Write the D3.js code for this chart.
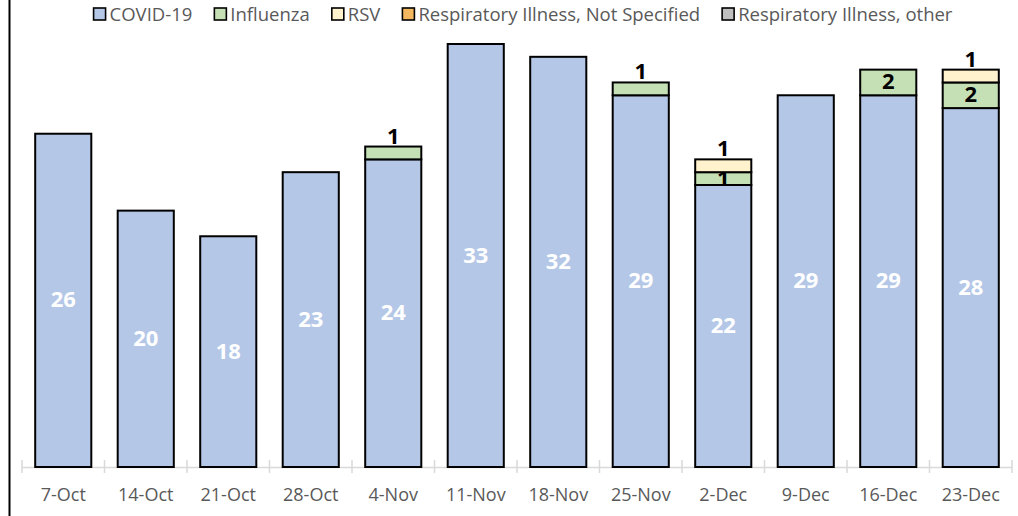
<!DOCTYPE html>
<html>
<head>
<meta charset="utf-8">
<script src="https://cdn.jsdelivr.net/npm/d3@7"></script>
<style>
  body { margin: 0; background: #fff; }
  text { font-family: "Open Sans", "Noto Sans", sans-serif; }
</style>
</head>
<body>
<div id="chart"></div>
<script>
// datos del grafico
const weeks = ["7-Oct", "14-Oct", "21-Oct", "28-Oct", "4-Nov", "11-Nov", "18-Nov", "25-Nov", "2-Dec", "9-Dec", "16-Dec", "23-Dec"];
const covid = [26, 20, 18, 23, 24, 33, 32, 29, 22, 29, 29, 28];
const influenza = [0, 0, 0, 0, 1, 0, 0, 1, 1, 0, 2, 2];
const rsv = [0, 0, 0, 0, 0, 0, 0, 0, 1, 0, 0, 1];
const notSpecified = [0, 0, 0, 0, 0, 0, 0, 0, 0, 0, 0, 0];
const other = [0, 0, 0, 0, 0, 0, 0, 0, 0, 0, 0, 0];

const seriesNames = ["COVID-19", "Influenza", "RSV", "Respiratory Illness, Not Specified", "Respiratory Illness, other"];
const seriesColors = ["#B4C7E7", "#C5E0B4", "#FFF2CC", "#F4B860", "#BFBFBF"];

const width = 1018, height = 516;
const baseY = 467;

const rows = weeks.map((w, i) => ({
  week: w,
  "COVID-19": covid[i],
  "Influenza": influenza[i],
  "RSV": rsv[i],
  "Respiratory Illness, Not Specified": notSpecified[i],
  "Respiratory Illness, other": other[i]
}));

const stacked = d3.stack().keys(seriesNames)(rows);

const x = d3.scaleBand().domain(weeks).range([22, 1012]).paddingInner(0.32).paddingOuter(0.16);
const y = d3.scaleLinear().domain([0, 33]).range([baseY, 44]);

const svg = d3.select("#chart").append("svg")
  .attr("width", width)
  .attr("height", height);

// linea vertical izquierda
svg.append("line")
  .attr("x1", 9.5).attr("x2", 9.5)
  .attr("y1", 0).attr("y2", height)
  .attr("stroke", "#000").attr("stroke-width", 2);

// eje x
svg.append("line")
  .attr("x1", 22).attr("x2", 1012)
  .attr("y1", baseY + 0.5).attr("y2", baseY + 0.5)
  .attr("stroke", "#d9d9d9").attr("stroke-width", 1.5);

const bounds = d3.range(weeks.length + 1).map(i => 22 + i * (990 / weeks.length));
svg.append("g").selectAll("line")
  .data(bounds)
  .enter().append("line")
  .attr("x1", d => d).attr("x2", d => d)
  .attr("y1", baseY - 7).attr("y2", baseY + 6)
  .attr("stroke", "#d9d9d9").attr("stroke-width", 1.5);

svg.append("g").selectAll("text")
  .data(weeks)
  .enter().append("text")
  .attr("x", d => x(d) + x.bandwidth() / 2)
  .attr("y", 501)
  .attr("text-anchor", "middle")
  .attr("font-size", 18)
  .attr("fill", "#595959")
  .text(d => d);

// barras apiladas, cada serie con sus etiquetas
stacked.forEach(function(layer, si) {
  const g = svg.append("g");
  g.selectAll("rect")
    .data(layer.filter(d => d[1] - d[0] > 0))
    .enter().append("rect")
    .attr("x", d => x(d.data.week))
    .attr("y", d => y(d[1]))
    .attr("width", x.bandwidth())
    .attr("height", d => y(d[0]) - y(d[1]))
    .attr("fill", seriesColors[si])
    .attr("stroke", "#000")
    .attr("stroke-width", 2);

  g.selectAll("text")
    .data(layer.filter(d => d[1] - d[0] > 0))
    .enter().append("text")
    .attr("x", d => x(d.data.week) + x.bandwidth() / 2)
    .attr("y", function(d) {
      const v = d[1] - d[0];
      const isTop = d[1] === d3.sum(seriesNames, k => d.data[k]);
      if (si > 0 && v === 1 && isTop) return y(d[1]) - 3;
      return (y(d[0]) + y(d[1])) / 2 + 7;
    })
    .attr("text-anchor", "middle")
    .attr("font-size", 22)
    .attr("font-weight", "bold")
    .attr("fill", si === 0 ? "#fff" : "#000")
    .text(d => d[1] - d[0]);
});

// leyenda
const legend = svg.append("g");
let lx = 0;
seriesNames.forEach(function(name, i) {
  const it = legend.append("g");
  it.append("rect")
    .attr("x", 0).attr("y", 8)
    .attr("width", 12).attr("height", 12)
    .attr("fill", seriesColors[i])
    .attr("stroke", "#000").attr("stroke-width", 1.6);
  const t = it.append("text")
    .attr("x", 16).attr("y", 21)
    .attr("font-size", 18.5)
    .attr("fill", "#595959")
    .text(name);
  const w = 16 + t.node().getComputedTextLength();
  it.attr("transform", `translate(${lx},0)`);
  lx += w + 22;
});
const totalW = lx - 22;
legend.attr("transform", `translate(${(86 + 960) / 2 - totalW / 2},0)`);
</script>
</body>
</html>
